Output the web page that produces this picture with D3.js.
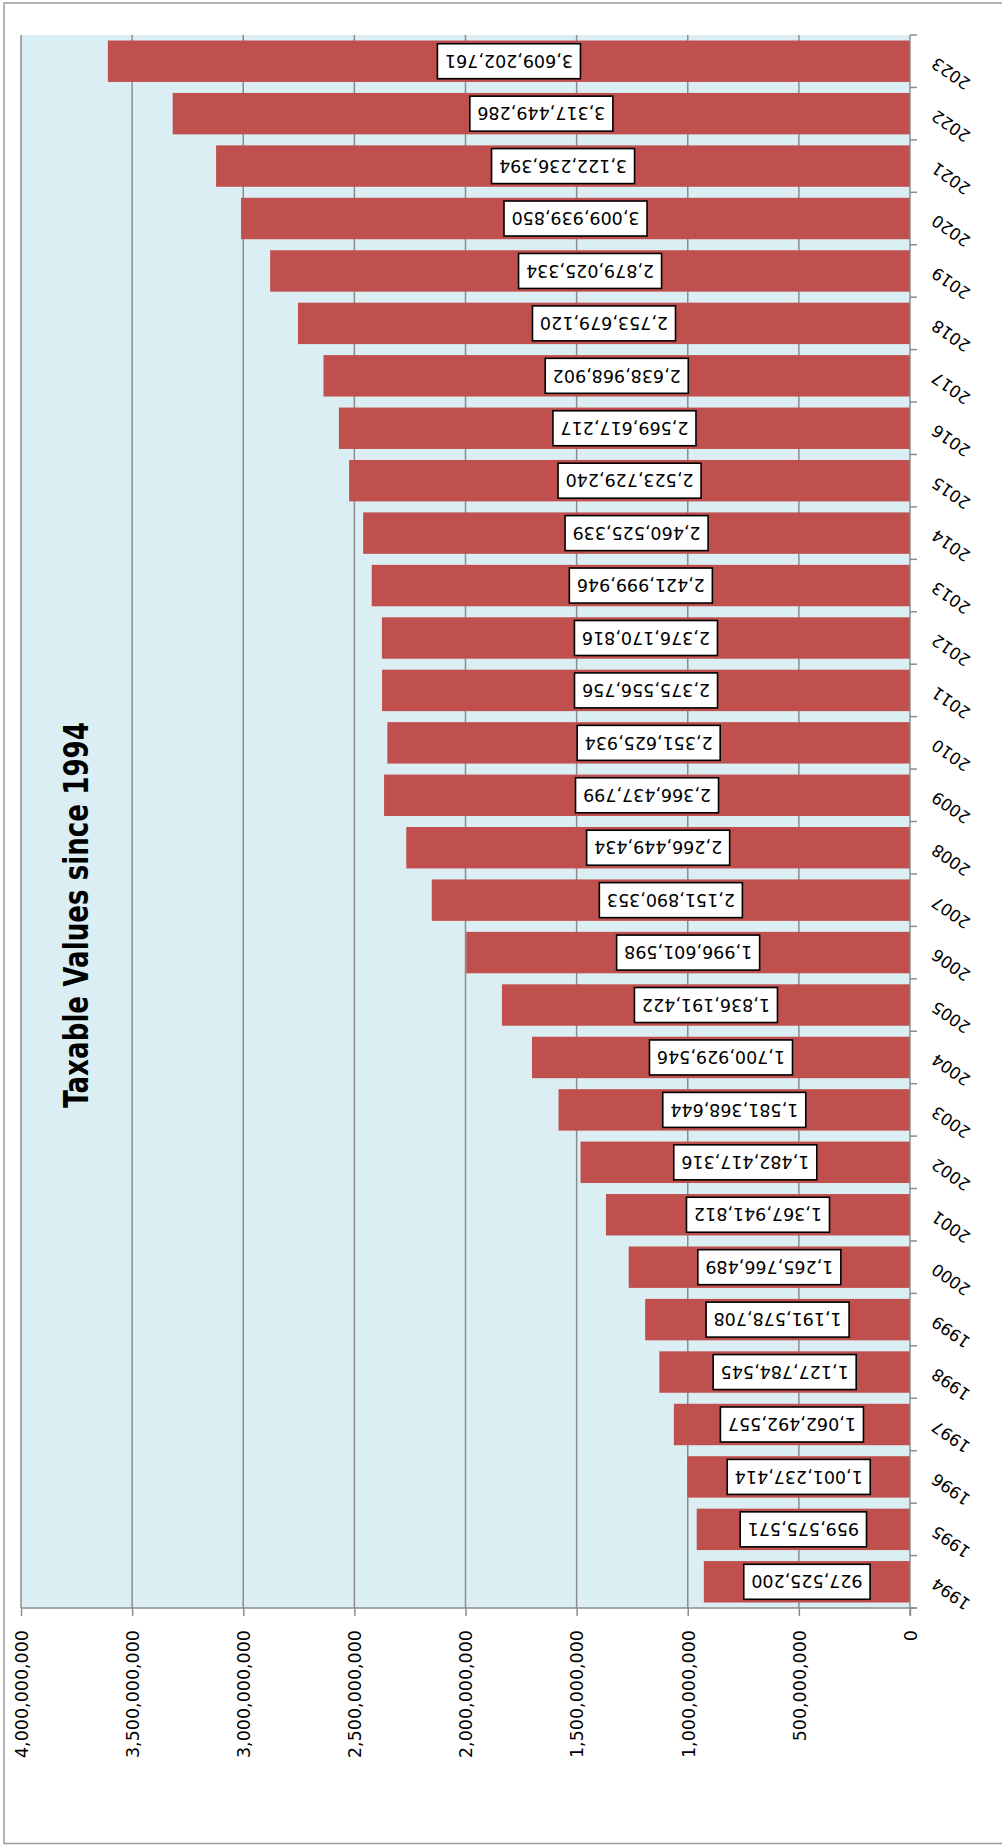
<!DOCTYPE html>
<html>
<head>
<meta charset="utf-8">
<script src="https://cdn.jsdelivr.net/npm/d3@7"></script>
<style>
  body { margin: 0; background: #fff; }
  svg { display: block; }
  text { font-family: "DejaVu Sans", sans-serif; }
</style>
</head>
<body>
<div id="chart"></div>
<script>
// Data: taxable values by year
var years = ["1994","1995","1996","1997","1998","1999","2000","2001","2002","2003",
             "2004","2005","2006","2007","2008","2009","2010","2011","2012","2013",
             "2014","2015","2016","2017","2018","2019","2020","2021","2022","2023"];
var values = [927525200, 959575571, 1001237414, 1062492557, 1127784545, 1191578708,
              1265766489, 1367941812, 1482417316, 1581368644, 1700929546, 1836191422,
              1996601598, 2151890353, 2266449434, 2366437799, 2351625934, 2375556756,
              2376170816, 2421999946, 2460525339, 2523729240, 2569617217, 2638968902,
              2753679120, 2879025334, 3009939850, 3122236394, 3317449286, 3609202761];
var valueTicks = [0, 500000000, 1000000000, 1500000000, 2000000000,
                  2500000000, 3000000000, 3500000000, 4000000000];
var title = "Taxable Values since 1994";

var data = years.map(function(y, i) { return {year: y, value: values[i]}; });

// The chart is drawn turned on its side: values grow to the left, years go upward
var W = 1002, H = 1845;
var plot = {left: 21, right: 910, top: 35, bottom: 1608};

var x = d3.scaleLinear().domain([0, 4000000000]).range([plot.right, plot.left]);
var y = d3.scaleBand().domain(years).range([plot.bottom, plot.top])
    .paddingInner(0.21).paddingOuter(0.105);

var svg = d3.select("#chart").append("svg")
    .attr("width", W)
    .attr("height", H);

// outer frame
svg.append("rect")
    .attr("x", 4).attr("y", 3)
    .attr("width", W + 10).attr("height", H - 4.5)
    .attr("fill", "#fff")
    .attr("stroke", "#9a9a9a")
    .attr("stroke-width", 1.5);

// plot background
svg.append("rect")
    .attr("x", plot.left).attr("y", plot.top)
    .attr("width", plot.right - plot.left)
    .attr("height", plot.bottom - plot.top)
    .attr("fill", "#dbeef4");

// gridlines
svg.append("g").selectAll("line")
    .data(valueTicks.filter(function(d) { return d > 0; }))
    .enter().append("line")
    .attr("x1", function(d) { return x(d); })
    .attr("x2", function(d) { return x(d); })
    .attr("y1", plot.top).attr("y2", plot.bottom)
    .attr("stroke", "#8c8c8c")
    .attr("stroke-width", 1.5);

// bars
svg.append("g").selectAll("rect")
    .data(data)
    .enter().append("rect")
    .attr("x", function(d) { return x(d.value); })
    .attr("y", function(d) { return y(d.year); })
    .attr("width", function(d) { return x(0) - x(d.value); })
    .attr("height", y.bandwidth())
    .attr("fill", "#c0504d");

// value axis (at the bottom, labels turned)
var xAxis = d3.axisBottom(x)
    .tickValues(valueTicks)
    .tickSize(8)
    .tickPadding(0)
    .tickFormat(d3.format(","));

var gx = svg.append("g")
    .attr("transform", "translate(0," + plot.bottom + ")")
    .call(xAxis);
gx.select(".domain")
    .attr("stroke", "#8c8c8c").attr("stroke-width", 1.5)
    .attr("d", "M" + plot.left + ",0H" + (plot.right + 7));
gx.selectAll(".tick line").attr("stroke", "#8c8c8c").attr("stroke-width", 1.5);
gx.selectAll(".tick text")
    .attr("font-family", "DejaVu Sans, sans-serif")
    .attr("font-size", "17.5px")
    .attr("fill", "#000")
    .attr("text-anchor", "end")
    .attr("transform", "translate(0,22) rotate(-90)")
    .attr("x", 0).attr("y", 0)
    .attr("dy", "0.36em");

// category axis (right side)
var gy = svg.append("g");
gy.append("line")
    .attr("x1", plot.right).attr("x2", plot.right)
    .attr("y1", plot.top).attr("y2", plot.bottom + 8)
    .attr("stroke", "#8c8c8c").attr("stroke-width", 1.5);

var boundaries = years.map(function(d) { return y(d) + y.bandwidth() + y.step() * y.paddingInner() / 2; });
boundaries.push(y(years[years.length - 1]) - y.step() * y.paddingInner() / 2);
gy.selectAll(".ctick")
    .data(boundaries)
    .enter().append("line")
    .attr("class", "ctick")
    .attr("x1", plot.right).attr("x2", plot.right + 7)
    .attr("y1", function(d) { return d; })
    .attr("y2", function(d) { return d; })
    .attr("stroke", "#8c8c8c").attr("stroke-width", 1.5);

gy.selectAll(".ylabel")
    .data(years)
    .enter().append("text")
    .attr("class", "ylabel")
    .attr("font-size", "16.5px")
    .attr("text-anchor", "end")
    .attr("transform", function(d) {
        var cy = y(d) + y.bandwidth() / 2 - 4.5;
        return "translate(" + (plot.right + 27) + "," + cy + ") rotate(-145)";
    })
    .text(function(d) { return d; });

// data labels, boxed and turned upside down
var labels = svg.append("g").selectAll("g")
    .data(data)
    .enter().append("g")
    .attr("transform", function(d) {
        var cx = (x(0) + x(d.value)) / 2;
        var cy = y(d.year) + y.bandwidth() / 2;
        return "translate(" + cx + "," + cy + ") rotate(180)";
    });

labels.append("rect")
    .attr("fill", "#fff")
    .attr("stroke", "#000")
    .attr("stroke-width", 1.6);

labels.append("text")
    .attr("font-size", "17.5px")
    .attr("text-anchor", "middle")
    .attr("dy", "0.36em")
    .text(function(d) { return d3.format(",")(d.value); });

labels.each(function() {
    var g = d3.select(this);
    var w = g.select("text").node().getComputedTextLength() + 15;
    g.select("rect")
        .attr("x", -w / 2).attr("y", -17.5)
        .attr("width", w).attr("height", 35);
});

// title
svg.append("text")
    .attr("transform", "translate(88,915) rotate(-90)")
    .attr("text-anchor", "middle")
    .attr("font-family", "Lato, 'Open Sans', sans-serif")
    .attr("font-weight", "bold")
    .attr("font-size", "34px")
    .attr("textLength", 386)
    .attr("lengthAdjust", "spacingAndGlyphs")
    .text(title);
</script>
</body>
</html>
